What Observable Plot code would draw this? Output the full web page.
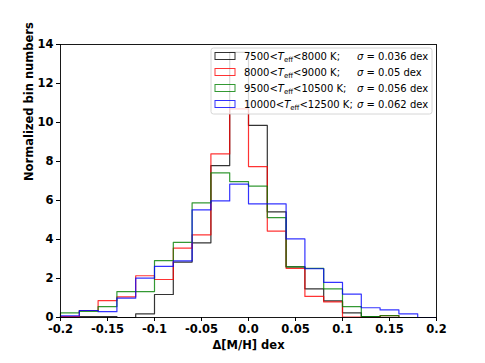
<!DOCTYPE html>
<html>
<head>
<meta charset="utf-8">
<script src="https://cdn.jsdelivr.net/npm/d3@7"></script>
<script src="https://cdn.jsdelivr.net/npm/@observablehq/plot@0.6"></script>
<style>
  html, body { margin: 0; padding: 0; background: #fff; }
  #chart { width: 485px; height: 363px; }
  svg { font-family: "DejaVu Sans", sans-serif; }
</style>
</head>
<body>
<div id="chart"></div>
<script>
// Bin left edges (bin width 0.02)
const binEdges = [-0.2,-0.18,-0.16,-0.14,-0.12,-0.10,-0.08,-0.06,-0.04,-0.02,0.0,0.02,0.04,0.06,0.08,0.10,0.12,0.14,0.16,0.18,0.2];

// Series labels
const seriesLo = ["7500", "8000", "9500", "10000"];
const seriesHi = ["8000", "9000", "10500", "12500"];
const sigmas = ["0.036", "0.05", "0.056", "0.062"];
const colors = ["#000000", "#ff0000", "#008000", "#0000ff"];

// Normalized bin values (20 bins from -0.2 to 0.2)
const black = [0.02,0.05,0.05,0.0,0.19,1.18,2.84,3.83,7.79,13.6,9.85,5.42,2.6,1.47,0.85,0.24,0.05,0.0,0.0,0.0];
const red   = [0.05,0.36,0.87,1.06,2.14,1.95,3.56,4.24,8.39,10.7,7.74,4.43,2.52,1.08,0.8,0.02,0.0,0.1,0.0,0.0];
const green = [0.24,0.31,0.56,1.33,1.33,2.92,3.85,5.88,7.42,6.97,6.74,5.12,2.6,2.52,1.47,0.56,0.05,0.1,0.0,0.0];
const blue  = [0.08,0.36,0.3,0.99,2.02,2.62,2.9,5.52,5.98,6.84,5.83,5.83,4.03,2.5,1.8,1.2,0.5,0.39,0.19,0.0];

const xTicks = [-0.2,-0.15,-0.1,-0.05,0,0.05,0.1,0.15,0.2];
const yTicks = [0,2,4,6,8,10,12,14];

const allSeries = [black, red, green, blue];

// Build step outline data for each series
function stepData(vals, idx) {
  const pts = [{x: binEdges[0], y: 0, s: idx}];
  vals.forEach((v, i) => pts.push({x: binEdges[i], y: v, s: idx}));
  pts.push({x: binEdges[vals.length], y: 0, s: idx});
  return pts;
}

const marks = allSeries.map((vals, i) =>
  Plot.line(stepData(vals, i), {
    x: "x", y: "y", curve: "step-after",
    stroke: colors[i], strokeWidth: 1.2, strokeOpacity: 0.8
  })
);

const chart = Plot.plot({
  width: 485,
  height: 363,
  marginLeft: 60,
  marginRight: 49,
  marginTop: 44,
  marginBottom: 46,
  style: {fontFamily: "DejaVu Sans, sans-serif", background: "#fff"},
  x: {domain: [-0.2, 0.2]},
  y: {domain: [0, 14]},
  marks: [
    ...marks,
    Plot.frame({stroke: "#000", strokeWidth: 0.9}),
    Plot.axisX({ticks: xTicks, tickSize: 4, tickPadding: 3,
      tickFormat: d => d === 0 ? "0.0" : String(d),
      fontSize: 11.5, fontWeight: "bold", label: null}),
    Plot.axisY({ticks: yTicks, tickSize: 4, tickPadding: 3,
      fontSize: 11.5, fontWeight: "bold", label: null}),
    Plot.text(["Δ[M/H] dex"], {frameAnchor: "bottom", dy: 28, lineAnchor: "middle", fontSize: 11.5, fontWeight: "bold", fill: "#000"}),
    Plot.text(["Normalized bin numbers"], {frameAnchor: "left", dx: -31, rotate: -90, fontSize: 11.5, fontWeight: "bold", fill: "#000"})
  ]
});
document.getElementById("chart").appendChild(chart);

// Legend (drawn over the plot, matplotlib-style)
const svg = d3.select(chart);
const lg = svg.append("g").attr("font-family", "DejaVu Sans, sans-serif").attr("font-size", 10)
  .attr("text-anchor", "start");
lg.append("rect").attr("x", 211).attr("y", 48).attr("width", 221).attr("height", 66)
  .attr("rx", 2.5).attr("fill", "#fff").attr("fill-opacity", 0.8)
  .attr("stroke", "#cccccc").attr("stroke-width", 0.8);
seriesLo.forEach((lo, i) => {
  const yc = 56 + i * 16;
  lg.append("rect").attr("x", 215).attr("y", yc - 3.5).attr("width", 20).attr("height", 7)
    .attr("fill", "none").attr("stroke", colors[i]).attr("stroke-width", 1).attr("stroke-opacity", 0.8);
  const t = lg.append("text").attr("x", 244).attr("y", yc).attr("dy", "0.36em").attr("fill", "#000")
    .attr("text-anchor", "start");
  t.append("tspan").text(lo + "<");
  t.append("tspan").attr("font-style", "italic").text("T");
  t.append("tspan").attr("font-size", 7).attr("dy", "2.5").text("eff");
  t.append("tspan").attr("dy", "-2.5").text("<" + seriesHi[i] + " K;");
  const s = lg.append("text").attr("x", 357).attr("y", yc).attr("dy", "0.36em").attr("fill", "#000")
    .attr("text-anchor", "start");
  s.append("tspan").attr("font-style", "italic").text("σ");
  s.append("tspan").text(" = " + sigmas[i] + " dex");
});
</script>
</body>
</html>
